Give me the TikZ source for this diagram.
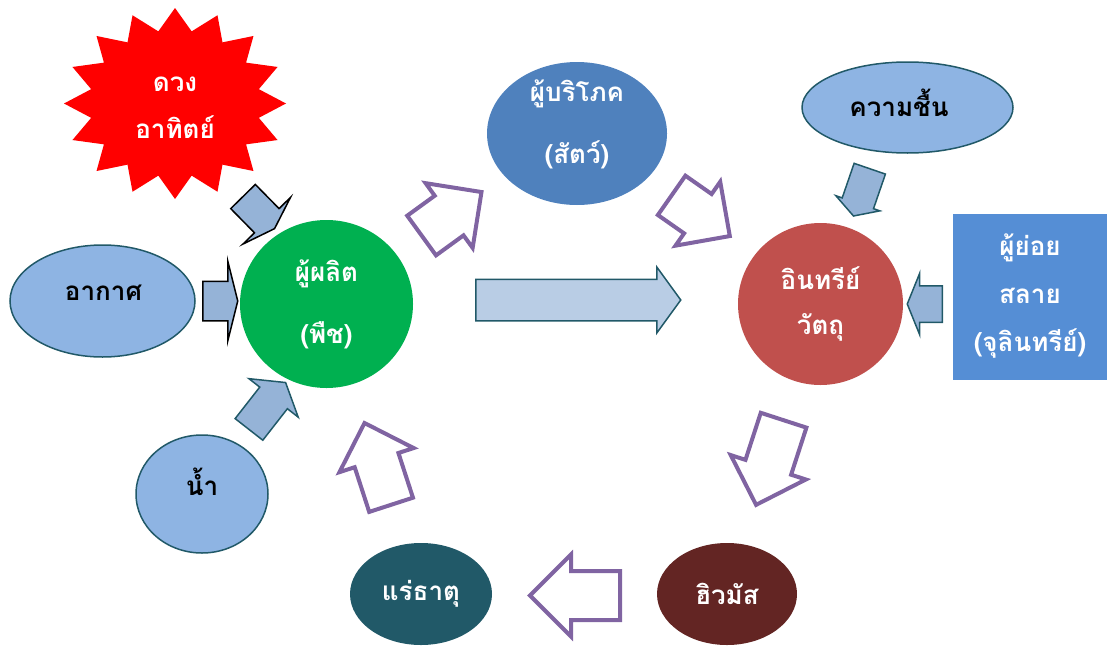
\documentclass[tikz,border=0pt]{standalone}
\usepackage{fontspec}
\newfontfamily\thaifont[Script=Thai]{Loma}
\usetikzlibrary{shapes.geometric,shapes.arrows}
\definecolor{SunRed}{HTML}{FF0000}
\definecolor{SkyFill}{HTML}{8EB4E3}
\definecolor{TealLine}{HTML}{215968}
\definecolor{PlantGreen}{HTML}{00B050}
\definecolor{ConsBlue}{HTML}{4F81BD}
\definecolor{OrgRed}{HTML}{C0504D}
\definecolor{DecoBlue}{HTML}{558ED5}
\definecolor{HumusBrown}{HTML}{632523}
\definecolor{MinTeal}{HTML}{215968}
\definecolor{CyclePurple}{HTML}{8064A2}
\definecolor{ArrowFill}{HTML}{95B3D7}
\definecolor{FlowFill}{HTML}{B9CDE5}
\tikzset{
thaitext/.style={font=\thaifont\bfseries\fontsize{26pt}{#1}\selectfont, align=center},
cyclebubble/.style={ellipse, inner sep=0pt, text=white, thaitext=#1},
inputbubble/.style={ellipse, draw=TealLine, line width=1.5pt, fill=SkyFill, inner sep=0pt},
fatarrow/.style n args={5}{single arrow, inner xsep=0pt, inner ysep={#2*0.5pt}, single arrow head extend=#3pt, single arrow tip angle=#4, minimum height=#1pt, minimum width=0pt, anchor=tail, rotate=#5},
inarrow/.style={fill=ArrowFill, draw=TealLine, line width=1.5pt},
cyclearrow/.style={fill=white, draw=CyclePurple, line width=4pt}
}
\begin{document}
\begin{tikzpicture}[x=1pt, y=-1pt]
  \useasboundingbox (0,0) rectangle (1107,645);
  % sun as a 16 point burst
  \fill[SunRed] plot[samples at={0,...,31}] ({175+111*(1-0.23*mod(\x,2))*cos(90+11.25*\x)}, {103.5-95.5*(1-0.23*mod(\x,2))*sin(90+11.25*\x)}) -- cycle;
  \node[thaitext=47pt, text=white] (sun) at (175,108) {ดวง\\อาทิตย์};
  % inputs
  \node[inputbubble, minimum width=185pt, minimum height=112pt] (air) at (102.5,301) {};
  \node[thaitext=40pt] (airtext) at (103.5,293) {อากาศ};
  \node[inputbubble, minimum width=132pt, minimum height=118pt] (water) at (202,494) {};
  \node[thaitext=40pt] (watertext) at (202,482) {น้ำ};
  \node[inputbubble, minimum width=211pt, minimum height=91pt] (moisture) at (907.5,107.5) {};
  \node[thaitext=40pt] (moisturetext) at (899,102.5) {ความชื้น};
  % cycle members
  \node[cyclebubble=62pt, fill=PlantGreen, minimum width=173pt, minimum height=168pt] (plant) at (326.5,304) {ผู้ผลิต\\(พืช)};
  \node[cyclebubble=62pt, fill=ConsBlue, minimum width=180pt, minimum height=143pt] (consumer) at (577,133.5) {};
  \node[thaitext=62pt, text=white] (consumertext) at (577,124) {ผู้บริโภค\\(สัตว์)};
  \node[cyclebubble=45pt, fill=OrgRed, minimum width=165pt, minimum height=162pt] (organic) at (820.5,304) {อินทรีย์\\วัตถุ};
  \node[rectangle, fill=DecoBlue, text=white, thaitext=48pt, minimum width=154pt, minimum height=166pt, inner sep=0pt] (decomposer) at (1030,296.5) {ผู้ย่อย\\สลาย\\(จุลินทรีย์)};
  \node[cyclebubble=40pt, fill=HumusBrown, minimum width=140pt, minimum height=102pt] (humus) at (727,594) {ฮิวมัส};
  \node[cyclebubble=40pt, fill=MinTeal, minimum width=142pt, minimum height=102pt] (mineral) at (421,594) {แร่ธาตุ};
  % arrows into the plant and the organic matter
  \node[fatarrow={45}{33}{16}{143}{-45.5}, inarrow, draw=black] (sunin) at (242.5,196) {};
  \node[fatarrow={35}{38}{20}{152}{0}, inarrow, draw=black] (airin) at (202,301) {};
  \node[fatarrow={59.5}{33.6}{13.7}{116}{52}, inarrow] (waterin) at (248.5,430) {};
  \node[fatarrow={205}{40}{12}{108}{0}, inarrow, fill=FlowFill] (flow) at (475,300) {};
  \node[fatarrow={50}{31.6}{6.7}{120}{-109}, inarrow] (moistin) at (870,168) {};
  \node[fatarrow={35}{35}{12.5}{136}{180}, inarrow] (decompin) at (943,304) {};
  % the cycle
  \node[fatarrow={74}{45}{15.5}{90}{36}, cyclearrow] (eat) at (420,236.7) {};
  \node[fatarrow={71}{44}{15}{90}{-35}, cyclearrow] (decay) at (670,194.2) {};
  \node[fatarrow={89}{44}{15.5}{90}{-108}, cyclearrow] (tohumus) at (784.2,418.3) {};
  \node[fatarrow={90}{45}{16.5}{90}{180}, cyclearrow] (tomineral) at (622,595.5) {};
  \node[fatarrow={86}{42}{16}{90}{108}, cyclearrow] (uptake) at (391.7,506.7) {};
\end{tikzpicture}
\end{document}
